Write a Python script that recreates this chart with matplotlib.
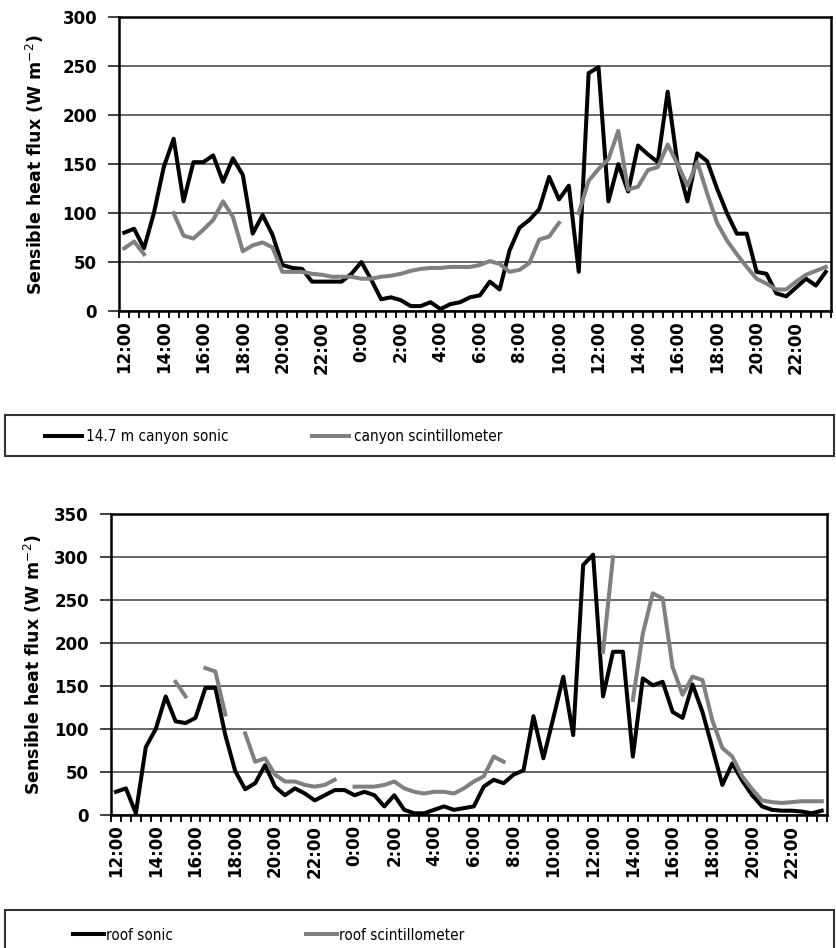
import numpy as np
import matplotlib
matplotlib.use('Agg')
import matplotlib.pyplot as plt
from matplotlib.patches import Rectangle
from matplotlib.font_manager import FontProperties

# Eixo de tempo: meia hora, 12:00 do dia 1 ate 23:30 do dia 2
tick_labels = ['12:00', '14:00', '16:00', '18:00', '20:00', '22:00', '0:00', '2:00', '4:00',
               '6:00', '8:00', '10:00', '12:00', '14:00', '16:00', '18:00', '20:00', '22:00']
n_pts = 72

# Canyon (painel de cima)
canyon_sonic = [80, 84, 64, 100, 147, 176, 112, 152, 152, 159, 132, 156, 139, 79, 98, 78,
                47, 44, 43, 30, 30, 30, 30, 38, 50, 32, 12, 14, 11, 5, 5, 9,
                2, 7, 9, 14, 16, 30, 22, 62, 85, 93, 104, 137, 114, 128, 40, 243,
                249, 112, 150, 122, 169, 160, 152, 224, 150, 112, 161, 153, 125, 100, 79, 79,
                40, 38, 18, 15, 24, 33, 26, 40]
canyon_scint = [64, 71, 58, None, None, 100, 77, 74, 83, 93, 112, 96, 61, 67, 70, 65,
                40, 40, 40, 38, 37, 35, 35, 35, 33, 33, 35, 36, 38, 41, 43, 44,
                44, 45, 45, 45, 47, 51, 48, 40, 42, 49, 73, 76, 90, None, 100, 133,
                145, 155, 184, 124, 127, 144, 147, 170, 150, 128, 152, 120, 90, 72, 58, 45,
                33, 28, 22, 22, 30, 37, 41, 45]

# Telhado (painel de baixo)
roof_sonic = [27, 31, 2, 79, 100, 138, 109, 107, 113, 148, 148, 93, 51, 30, 37, 58,
              33, 23, 31, 25, 17, 23, 29, 29, 23, 27, 23, 10, 23, 6, 2, 2,
              6, 10, 6, 8, 10, 33, 41, 37, 47, 52, 115, 66, 113, 161, 93, 291,
              303, 138, 190, 190, 68, 159, 151, 155, 120, 113, 152, 120, 78, 35, 60, 40,
              23, 10, 6, 5, 5, 4, 2, 5]
roof_scint = [None, None, None, None, None, None, 155, 138, None, 171, 167, 117, None, 95, 62, 66,
              47, 39, 39, 35, 33, 35, 41, None, 33, 33, 33, 35, 39, 31, 27, 25,
              27, 27, 25, 31, 39, 45, 68, 62, None, None, None, None, None, None, None, None,
              None, 190, 300, None, 134, 211, 258, 252, 172, 140, 161, 157, 110, 78, 68, 45,
              30, 17, 15, 14, 15, 16, 16, 16]

W, H = 837, 948
fig = plt.figure(figsize=(W / 100, H / 100), dpi=100)

tick_font = {'family': 'DejaVu Sans', 'weight': 'bold', 'size': 12}
leg_font = FontProperties(family='DejaVu Sans', stretch='condensed', size=11)


def estilo(ax, ymax, label_x):
    x = np.arange(n_pts)
    ax.set_xlim(-0.5, n_pts - 0.5)
    ax.set_ylim(0, ymax)
    ax.set_yticks(np.arange(0, ymax + 1, 50))
    ax.grid(axis='y', color='#4d4d4d', linewidth=1.2)
    ax.set_axisbelow(True)
    ax.set_xticks(x[::4])
    ax.set_xticklabels(tick_labels, rotation=90, fontdict=tick_font)
    ax.set_xticks(np.arange(-0.5, n_pts, 1), minor=True)
    ax.tick_params(axis='x', which='major', length=0, pad=7)
    ax.tick_params(axis='x', which='minor', length=5, width=1.3, color='black')
    ax.tick_params(axis='y', length=8, width=1.3, color='#333333', pad=8)
    for lbl in ax.get_yticklabels():
        lbl.set_fontproperties(tick_font)
    for s in ax.spines.values():
        s.set_linewidth(1.8)
        s.set_color('black')
    ax.set_ylabel(r'Sensible heat flux (W m$^{-2}$)', fontsize=12.5, fontweight='bold',
                  family='DejaVu Sans', va='center')
    ax.yaxis.set_label_coords(label_x, 0.5)


x = np.arange(n_pts)

# Painel de cima
ax1 = fig.add_axes([119.3 / W, 1 - 311 / H, 711.4 / W, 293.7 / H])
l1, = ax1.plot(x, np.array(canyon_sonic, dtype=float), color='black', lw=2.9)
l2, = ax1.plot(x, np.array(canyon_scint, dtype=float), color='#808080', lw=2.9)
estilo(ax1, 300, (35 - 119.3) / 711.4)

# Painel de baixo
ax2 = fig.add_axes([111 / W, 1 - 815 / H, 715.7 / W, 300.7 / H])
l3, = ax2.plot(x, np.array(roof_sonic, dtype=float), color='black', lw=2.9)
l4, = ax2.plot(x, np.array(roof_scint, dtype=float), color='#808080', lw=2.9)
estilo(ax2, 350, (33 - 111) / 715.7)

# Caixas das legendas
fig.patches.append(Rectangle((5 / W, 1 - 456 / H), 829 / W, 41 / H, transform=fig.transFigure,
                             fill=False, edgecolor='#333333', lw=1.5))
fig.patches.append(Rectangle((5 / W, 1 - 960 / H), 829 / W, 50 / H, transform=fig.transFigure,
                             fill=False, edgecolor='#333333', lw=1.5))

leg1 = fig.legend([l1, l2], ['14.7 m canyon sonic', 'canyon scintillometer'], loc='center left',
                  bbox_to_anchor=(45 / W, 1 - 437 / H), ncol=2, frameon=False, borderpad=0,
                  borderaxespad=0, handlelength=2.4, handletextpad=0.3, columnspacing=5.47,
                  prop=leg_font)
leg2 = fig.legend([l3, l4], ['roof sonic', 'roof scintillometer'], loc='center left',
                  bbox_to_anchor=(73 / W, 1 - 935 / H), ncol=2, frameon=False, borderpad=0,
                  borderaxespad=0, handlelength=2.0, handletextpad=0.15, columnspacing=8.75,
                  prop=leg_font)

fig.savefig('out.png', dpi=100)
